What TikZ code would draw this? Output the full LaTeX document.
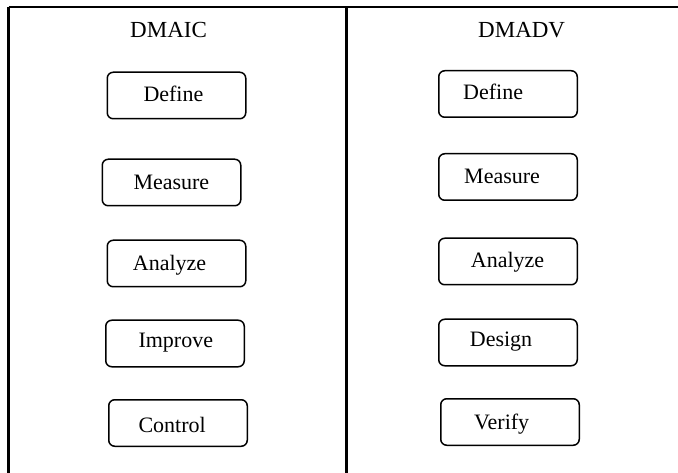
\documentclass[tikz,border=0pt]{standalone}
\usepackage{fontspec}
\setmainfont{Liberation Serif}
\newfontfamily\stepfont{Liberation Serif}
\begin{document}
\begin{tikzpicture}[x=1pt,y=-1pt,
  stepbox/.style={draw=black,line width=1.5pt,rounded corners=6pt,
    minimum width=138.5pt,minimum height=46.5pt,inner sep=0pt},
  steptext/.style={anchor=base west,inner sep=0pt,font=\stepfont\fontsize{22}{26}\selectfont},
  headtext/.style={anchor=base west,inner sep=0pt,font=\stepfont\fontsize{23}{27}\selectfont},
  rule/.style={line width=2.2pt}]
\useasboundingbox (0,0) rectangle (678,473);

% table frame
\coordinate (tl) at (8.5,7.5);
\coordinate (tr) at (678,7.5);
\coordinate (bl) at (8.5,473);
\coordinate (mt) at (346.5,7.5);
\coordinate (mb) at (346.5,473);
\draw[line width=2pt] (tl) -- (tr);
\draw[rule] (tl) -- (bl);
\draw[rule] (mt) -- (mb);

% column headings
\node[headtext] (hl) at (130,37.7) {DMAIC};
\node[headtext] (hr) at (478,37.7) {DMADV};

% DMAIC boxes
\node[stepbox] (l1) at (176.5,95.5) {};
\node[stepbox] (l2) at (171.5,182.5) {};
\node[stepbox] (l3) at (176.5,263.5) {};
\node[stepbox] (l4) at (175,343.5) {};
\node[stepbox] (l5) at (178,423) {};
\node[steptext] (l1t) at (143.3,102) {Define};
\node[steptext] (l2t) at (133.3,190) {Measure};
\node[steptext] (l3t) at (132.7,270.3) {Analyze};
\node[steptext] (l4t) at (138.3,348) {Improve};
\node[steptext] (l5t) at (138.3,432) {Control};

% DMADV boxes
\node[stepbox] (r1) at (508,94) {};
\node[stepbox] (r2) at (508,177) {};
\node[stepbox] (r3) at (508,261.5) {};
\node[stepbox] (r4) at (508,342.5) {};
\node[stepbox] (r5) at (510,422) {};
\node[steptext] (r1t) at (463,100) {Define};
\node[steptext] (r2t) at (464,183.3) {Measure};
\node[steptext] (r3t) at (470.7,268) {Analyze};
\node[steptext] (r4t) at (469.7,346.3) {Design};
\node[steptext] (r5t) at (474,429.7) {Verify};
\end{tikzpicture}
\end{document}
